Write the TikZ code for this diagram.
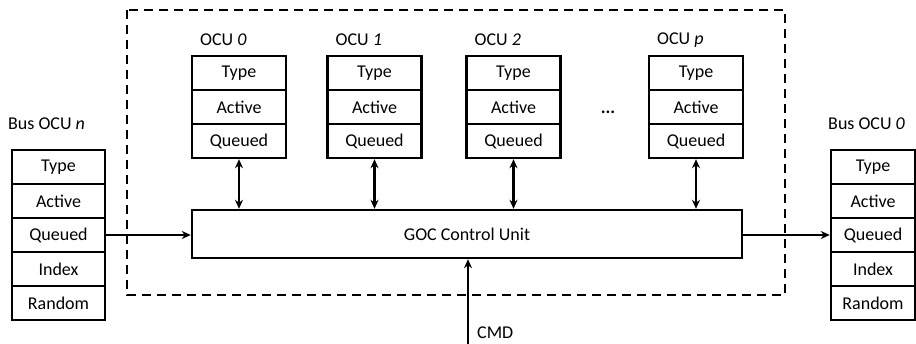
\documentclass[tikz,border=0pt]{standalone}
\usepackage{fontspec}
\setmainfont{Carlito}
\usetikzlibrary{arrows.meta}
\begin{document}
\begin{tikzpicture}[x=1pt,y=-1pt,
  cell/.style={draw,line width=2.4pt,minimum width=94pt,minimum height=34pt,inner sep=0pt,font=\fontsize{18}{20}\selectfont},
  bcell/.style={cell,minimum width=93pt},
  rcell/.style={cell,minimum width=84pt},
  lbl/.style={anchor=west,inner sep=0pt,font=\fontsize{18}{20}\selectfont},
  conn/.style={line width=2.4pt,-{Stealth[length=9pt,width=8pt]}},
  dconn/.style={line width=2.4pt,{Stealth[length=9pt,width=8pt]}-{Stealth[length=9pt,width=8pt]}},
  frame/.style={line width=2.4pt,dash pattern=on 9pt off 6pt}]
\useasboundingbox (0,0) rectangle (916,344);
\draw[frame] (127,10) rectangle (785,295);
% OCU stacks
\foreach \n/\x/\t in {a/239/0, b/374.5/1, c/513.5/2, d/696/p}{
  \node[cell] (\n t) at (\x,73) {Type};
  \node[cell] (\n a) at (\x,107) {Active};
  \node[cell] (\n q) at (\x,141) {Queued};
  \node[lbl] (\n l) at (\x-39,40) {OCU \textit{\t}};
}
\node[inner sep=0pt,font=\fontsize{18}{20}\selectfont\bfseries] (dots) at (608,112) {...};
% GOC
\node[draw,line width=2.4pt,minimum width=550pt,minimum height=48pt,inner sep=0pt,font=\fontsize{18}{20}\selectfont] (goc) at (467,234) {GOC Control Unit};
\foreach \n in {a,b,c,d}{
  \draw[dconn] (\n q.south) -- (\n q.south |- goc.north);
}
% Buses
\foreach \i/\w/\y in {1/Type/167, 2/Active/201, 3/Queued/235, 4/Index/269, 5/Random/303}{
  \node[bcell] (l\i) at (58.5,\y) {\w};
  \node[rcell] (r\i) at (873,\y) {\w};
}
\node[lbl] (bl) at (8,124) {Bus OCU \textit{n}};
\node[lbl] (br) at (828,124) {Bus OCU \textit{0}};
\draw[conn] (l3.east) -- (l3.east -| goc.west);
\draw[conn] (goc.east |- r3.west) -- (r3.west);
\coordinate (cmdb) at (468,344);
\draw[conn] (cmdb) -- (cmdb |- goc.south);
\node[lbl] (cmd) at (477,333) {CMD};
\end{tikzpicture}
\end{document}
